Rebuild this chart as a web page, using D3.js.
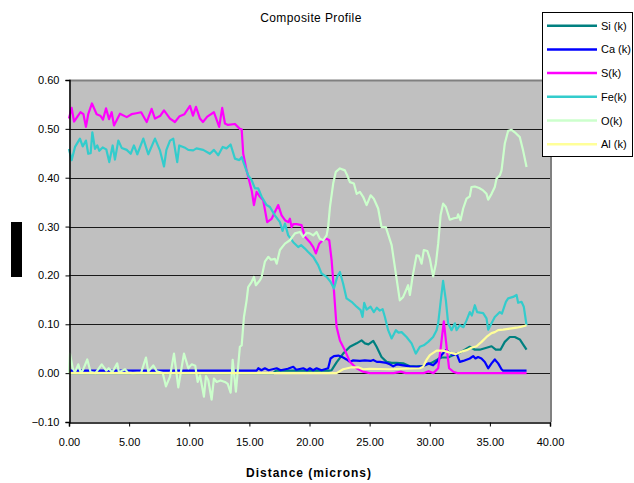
<!DOCTYPE html>
<html>
<head>
<meta charset="utf-8">
<script src="https://cdn.jsdelivr.net/npm/d3@7"></script>
<style>
  html, body { margin: 0; padding: 0; background: #ffffff; }
  svg { display: block; font-family: "Liberation Sans", Arial, sans-serif; }
</style>
</head>
<body>
<svg id="chart" width="634" height="483"></svg>
<script>
// Element line-scan profile: [distance in microns, k-ratio]
const siK = [[0,0.0],[17.0,0.0],[17.2,0.005],[21.6,0.005],[21.84,0.006],[22.25,0.022],[22.8,0.04],[23.36,0.054],[23.92,0.061],[24.33,0.067],[24.61,0.061],[24.9,0.059],[25.3,0.066],[25.58,0.054],[25.99,0.033],[26.41,0.023],[26.83,0.021],[27.24,0.021],[27.79,0.02],[28.35,0.014],[28.9,0.014],[29.45,0.015],[30.15,0.021],[30.57,0.027],[30.98,0.032],[31.53,0.032],[31.95,0.037],[32.36,0.04],[32.92,0.048],[33.33,0.054],[33.75,0.048],[34.16,0.048],[34.72,0.052],[35.14,0.055],[35.49,0.048],[35.88,0.048],[36.24,0.064],[36.66,0.074],[37.07,0.074],[37.49,0.069],[37.76,0.059],[38.05,0.048]];

const caK = [[0,0.005],[15.6,0.005],[15.74,0.01],[16.0,0.006],[16.29,0.01],[16.6,0.006],[17.27,0.01],[17.6,0.006],[18.2,0.009],[18.65,0.013],[18.9,0.007],[19.48,0.01],[19.8,0.006],[20.03,0.01],[20.3,0.006],[20.59,0.01],[21.0,0.006],[21.55,0.01],[21.75,0.03],[22.03,0.035],[22.4,0.036],[22.8,0.032],[23.08,0.028],[23.36,0.023],[23.6,0.026],[24.19,0.025],[24.6,0.026],[25.08,0.025],[25.3,0.027],[25.6,0.023],[25.85,0.023],[26.41,0.021],[26.68,0.018],[26.96,0.014],[27.3,0.018],[27.79,0.016],[28.35,0.014],[28.9,0.013],[29.45,0.014],[29.87,0.02],[30.28,0.016],[30.57,0.023],[30.98,0.037],[31.34,0.047],[31.67,0.042],[31.95,0.037],[32.23,0.04],[32.5,0.023],[32.78,0.025],[33.33,0.03],[33.61,0.035],[33.8,0.03],[34.02,0.033],[34.3,0.03],[34.58,0.023],[34.86,0.01],[35.14,0.02],[35.41,0.028],[35.69,0.02],[35.97,0.008],[36.1,0.005],[38.05,0.005]];

const sK = [[0,0.521],[0.22,0.543],[0.42,0.515],[0.7,0.525],[0.95,0.534],[1.2,0.53],[1.41,0.504],[1.6,0.53],[1.91,0.552],[2.3,0.53],[2.6,0.527],[2.83,0.519],[3.08,0.542],[3.33,0.52],[3.55,0.534],[3.74,0.507],[4.24,0.531],[4.8,0.524],[5.2,0.53],[5.6,0.532],[6.0,0.534],[6.46,0.514],[6.87,0.541],[7.15,0.521],[7.6,0.527],[7.9,0.538],[8.4,0.521],[8.81,0.514],[9.2,0.526],[9.6,0.53],[10.06,0.547],[10.31,0.527],[10.56,0.545],[10.89,0.521],[11.14,0.514],[11.5,0.525],[12.05,0.534],[12.49,0.504],[12.74,0.543],[12.97,0.511],[13.22,0.508],[13.8,0.51],[14.21,0.5],[14.36,0.499],[14.49,0.449],[14.77,0.415],[15.19,0.374],[15.38,0.344],[15.6,0.371],[15.88,0.361],[16.15,0.354],[16.48,0.309],[16.85,0.316],[17.12,0.33],[17.4,0.344],[17.68,0.323],[17.96,0.313],[18.23,0.309],[18.37,0.316],[18.51,0.299],[18.65,0.305],[18.93,0.305],[19.34,0.303],[19.62,0.279],[20.03,0.268],[20.31,0.258],[20.53,0.245],[20.81,0.265],[21.09,0.272],[21.42,0.275],[21.64,0.272],[21.84,0.231],[22.03,0.17],[22.25,0.095],[22.53,0.067],[22.94,0.047],[23.36,0.023],[23.92,0.01],[24.46,0.003],[25.0,0.0],[27.0,0.0],[27.6,0.003],[28.0,0.0],[29.5,0.0],[29.9,0.004],[30.3,0.0],[30.7,0.01],[30.92,0.054],[31.17,0.106],[31.4,0.054],[31.61,0.01],[31.95,0.003],[32.3,0.0],[38.05,0.0]];

const feK = [[0,0.459],[0.22,0.436],[0.5,0.463],[0.91,0.48],[1.14,0.464],[1.41,0.476],[1.6,0.449],[1.8,0.45],[1.94,0.493],[2.16,0.459],[2.35,0.466],[2.52,0.455],[2.8,0.462],[3.1,0.458],[3.35,0.432],[3.63,0.466],[3.82,0.437],[4.1,0.476],[4.38,0.461],[4.8,0.457],[5.13,0.449],[5.4,0.466],[5.68,0.448],[6.18,0.48],[6.59,0.448],[7.15,0.48],[7.56,0.456],[7.9,0.423],[8.1,0.457],[8.4,0.476],[8.67,0.48],[9.0,0.432],[9.17,0.466],[9.6,0.462],[9.92,0.457],[10.33,0.456],[10.6,0.46],[11.16,0.457],[11.72,0.449],[12.05,0.457],[12.41,0.446],[12.78,0.463],[13.1,0.46],[13.44,0.468],[13.8,0.439],[14.16,0.436],[14.36,0.442],[14.55,0.429],[14.9,0.405],[15.19,0.395],[15.46,0.378],[15.74,0.378],[16.02,0.361],[16.43,0.344],[16.71,0.34],[17.12,0.323],[17.54,0.309],[17.76,0.291],[17.96,0.306],[18.23,0.282],[18.65,0.268],[19.06,0.258],[19.3,0.262],[19.62,0.255],[19.89,0.248],[20.31,0.238],[20.72,0.221],[21.0,0.204],[21.42,0.197],[21.75,0.187],[22.03,0.173],[22.3,0.197],[22.53,0.207],[22.8,0.183],[23.08,0.153],[23.5,0.146],[23.92,0.136],[24.25,0.129],[24.41,0.115],[24.55,0.144],[24.75,0.13],[25.08,0.136],[25.35,0.125],[25.6,0.134],[25.85,0.128],[26.08,0.131],[26.27,0.115],[26.54,0.088],[26.83,0.071],[27.18,0.088],[27.4,0.083],[27.66,0.084],[28.07,0.074],[28.49,0.061],[28.84,0.04],[29.18,0.054],[29.5,0.057],[29.87,0.064],[30.28,0.074],[30.57,0.088],[30.7,0.102],[30.92,0.149],[31.11,0.189],[31.34,0.149],[31.53,0.102],[31.81,0.088],[32.09,0.102],[32.23,0.088],[32.5,0.098],[32.8,0.094],[33.06,0.108],[33.33,0.125],[33.5,0.118],[33.75,0.139],[33.94,0.125],[34.44,0.123],[34.72,0.112],[34.86,0.089],[35.14,0.102],[35.41,0.115],[35.83,0.125],[36.0,0.122],[36.33,0.146],[36.52,0.153],[36.93,0.156],[37.22,0.16],[37.35,0.144],[37.63,0.146],[37.82,0.136],[38.05,0.098]];

const oK = [[0,0.0],[0.08,0.04],[0.31,0.01],[0.5,0.002],[0.77,0.018],[0.95,0.003],[1.14,0.005],[1.52,0.028],[1.8,0.002],[2.2,0.0],[2.72,0.018],[2.9,0.012],[3.1,0.005],[3.3,0.01],[3.6,0.002],[4.01,0.02],[4.15,0.002],[4.66,0.008],[4.9,0.001],[5.3,0.0],[6.0,0.001],[6.4,0.032],[6.59,0.003],[7.01,0.016],[7.3,0.004],[7.8,0.0],[8.06,-0.027],[8.4,-0.007],[8.73,0.04],[9.09,-0.029],[9.56,0.04],[9.92,0.01],[10.2,0.018],[10.5,0.015],[10.7,-0.018],[10.9,-0.005],[11.22,-0.048],[11.39,-0.006],[11.58,-0.014],[11.86,-0.054],[12.05,-0.011],[12.28,-0.018],[12.6,-0.015],[12.97,-0.018],[13.2,-0.022],[13.44,-0.04],[13.61,0.027],[13.88,-0.038],[14.21,0.054],[14.36,0.057],[14.55,0.115],[14.77,0.149],[14.9,0.176],[15.19,0.187],[15.38,0.197],[15.54,0.18],[15.88,0.19],[16.02,0.197],[16.29,0.228],[16.57,0.238],[16.8,0.232],[17.12,0.234],[17.27,0.224],[17.54,0.252],[17.96,0.265],[18.37,0.272],[18.79,0.286],[19.2,0.289],[19.48,0.279],[19.76,0.287],[20.03,0.286],[20.31,0.282],[20.59,0.289],[20.86,0.275],[21.14,0.272],[21.42,0.282],[21.55,0.299],[21.7,0.34],[21.97,0.388],[22.19,0.412],[22.53,0.419],[22.94,0.415],[23.13,0.405],[23.36,0.391],[23.69,0.388],[23.92,0.367],[24.19,0.371],[24.46,0.361],[24.75,0.344],[25.08,0.364],[25.35,0.357],[25.71,0.337],[25.99,0.299],[26.35,0.299],[26.83,0.262],[27.1,0.217],[27.51,0.149],[27.79,0.156],[28.2,0.18],[28.35,0.16],[28.57,0.197],[28.9,0.241],[29.1,0.24],[29.32,0.224],[29.51,0.252],[29.8,0.25],[30.01,0.234],[30.28,0.198],[30.51,0.224],[30.7,0.265],[30.9,0.323],[31.11,0.347],[31.34,0.34],[31.67,0.314],[32.0,0.317],[32.28,0.318],[32.36,0.325],[32.56,0.313],[32.78,0.337],[33.06,0.357],[33.33,0.362],[33.47,0.381],[33.75,0.382],[34.11,0.379],[34.44,0.374],[34.72,0.367],[34.86,0.355],[35.14,0.367],[35.41,0.381],[35.55,0.398],[35.83,0.405],[35.97,0.415],[36.24,0.47],[36.52,0.496],[36.8,0.498],[37.07,0.493],[37.49,0.483],[37.76,0.456],[38.05,0.422]];

const alK = [[0,0.0],[22.25,0.0],[22.8,0.008],[23.5,0.012],[24.05,0.012],[24.46,0.008],[25.0,0.009],[26.68,0.008],[27.79,0.009],[29.18,0.01],[29.45,0.013],[29.73,0.027],[30.01,0.037],[30.57,0.046],[31.11,0.046],[31.67,0.042],[32.17,0.039],[32.64,0.044],[33.06,0.047],[33.47,0.052],[33.89,0.055],[34.31,0.064],[34.72,0.074],[35.14,0.082],[35.41,0.084],[35.69,0.088],[36.1,0.089],[36.66,0.091],[37.22,0.093],[37.63,0.095],[38.05,0.098]];

const seriesNames = ["Si (k)", "Ca (k)", "S(k)", "Fe(k)", "O(k)", "Al (k)"];
const seriesColors = ["#008080", "#0000FF", "#FF00FF", "#33CCCC", "#CCFFCC", "#FFFF99"];
const seriesData = [siK, caK, sK, feK, oK, alK];

const xTicks = [0, 5, 10, 15, 20, 25, 30, 35, 40];
const yTicks = [-0.1, 0, 0.1, 0.2, 0.3, 0.4, 0.5, 0.6];

const chartTitle = "Composite Profile";
const xTitle = "Distance (microns)";

const svg = d3.select("#chart");
const plot = { left: 69, right: 550, top: 80, bottom: 422 };

const x = d3.scaleLinear().domain([0, 40]).range([plot.left, plot.right]);
const y = d3.scaleLinear().domain([-0.1, 0.6]).range([plot.bottom, plot.top]);

// Plot area background
svg.append("rect")
  .attr("x", plot.left).attr("y", plot.top)
  .attr("width", plot.right - plot.left).attr("height", plot.bottom - plot.top)
  .attr("fill", "#C0C0C0");

// Horizontal gridlines
svg.append("g")
  .selectAll("line")
  .data(yTicks.filter(v => v > -0.1 && v < 0.6))
  .join("line")
  .attr("x1", plot.left).attr("x2", plot.right)
  .attr("y1", d => Math.round(y(d)) + 0.5).attr("y2", d => Math.round(y(d)) + 0.5)
  .attr("stroke", "#1a1a1a").attr("stroke-width", 1);

// Plot area frame (top and right)
svg.append("path")
  .attr("d", `M${plot.left},${plot.top + 0.5} H${plot.right + 1} V${plot.bottom}`)
  .attr("fill", "none").attr("stroke", "#808080").attr("stroke-width", 2);

// Series lines
const line = d3.line().x(d => x(d[0])).y(d => y(d[1]));
svg.append("g")
  .selectAll("path")
  .data(seriesData)
  .join("path")
  .attr("d", line)
  .attr("fill", "none")
  .attr("stroke", (d, i) => seriesColors[i])
  .attr("stroke-width", 2.2)
  .attr("stroke-linejoin", "round");

// Axes
const yAxis = d3.axisLeft(y).tickValues(yTicks).tickFormat(d3.format(".2f")).tickSizeOuter(0).tickSize(4).tickPadding(6);
const gy = svg.append("g").attr("transform", `translate(${plot.left + 0.5},0)`).call(yAxis);
gy.select(".domain").attr("stroke", "#000").attr("stroke-width", 1.5);
gy.selectAll(".tick line").attr("stroke", "#000");
gy.selectAll("text").attr("font-size", 11).attr("fill", "#000").attr("font-family", "Liberation Sans, Arial, sans-serif");

const xAxis = d3.axisBottom(x).tickValues(xTicks).tickFormat(d3.format(".2f")).tickSizeOuter(0).tickSize(4).tickPadding(12);
const gx = svg.append("g").attr("transform", `translate(0,${plot.bottom + 0.5})`).call(xAxis);
gx.select(".domain").attr("stroke", "#000").attr("stroke-width", 1.5);
gx.selectAll(".tick line").attr("stroke", "#000");
gx.selectAll("text").attr("font-size", 11).attr("fill", "#000").attr("font-family", "Liberation Sans, Arial, sans-serif");

// Titles
svg.append("text")
  .attr("x", 311).attr("y", 22)
  .attr("text-anchor", "middle")
  .attr("font-size", 12).attr("letter-spacing", 0.4)
  .text(chartTitle);

svg.append("text")
  .attr("x", 309).attr("y", 477)
  .attr("text-anchor", "middle")
  .attr("font-size", 12).attr("font-weight", "bold").attr("letter-spacing", 1)
  .text(xTitle);

// Y-axis title block
svg.append("rect")
  .attr("x", 11).attr("y", 222).attr("width", 11).attr("height", 55)
  .attr("fill", "#000");

// Legend
const legend = svg.append("g");
legend.append("rect")
  .attr("x", 542.5).attr("y", 12.5).attr("width", 90).attr("height", 144)
  .attr("fill", "#fff").attr("stroke", "#000").attr("stroke-width", 1);
const items = legend.selectAll("g.item")
  .data(seriesNames)
  .join("g")
  .attr("class", "item")
  .attr("transform", (d, i) => `translate(0,${25.7 + i * 23.7})`);
items.append("line")
  .attr("x1", 547).attr("x2", 597)
  .attr("stroke", (d, i) => seriesColors[i]).attr("stroke-width", 2.5);
items.append("text")
  .attr("x", 601).attr("y", 4)
  .attr("font-size", 11)
  .text(d => d);
</script>
</body>
</html>
